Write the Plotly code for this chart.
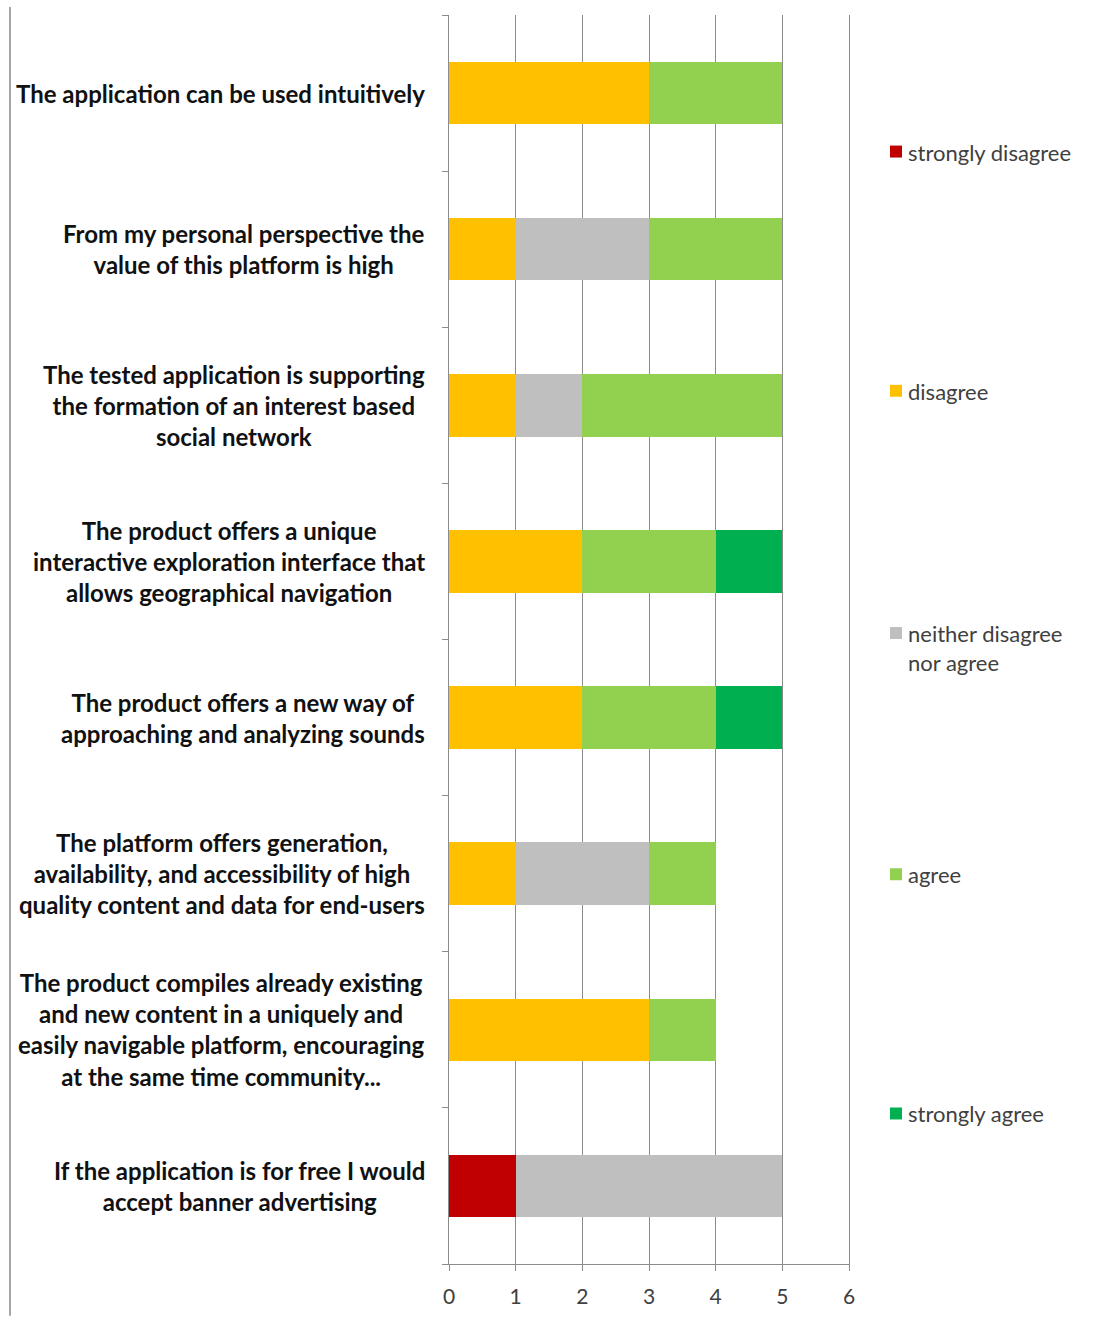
import plotly.graph_objects as go

# Survey statements, listed top to bottom
statements = [
    "The application can be used intuitively",
    "From my personal perspective the<br>value of this platform is high",
    "The tested application is supporting<br>the formation of an interest based<br>social network",
    "The product offers a unique<br>interactive exploration interface that<br>allows geographical navigation",
    "The product offers a new way of<br>approaching and analyzing sounds",
    "The platform offers generation,<br>availability, and accessibility of high<br>quality content and data for end-users",
    "The product compiles already existing<br>and new content in a uniquely and<br>easily navigable platform, encouraging<br>at the same time community...",
    "If the application is for free I would<br>accept banner advertising",
]

# Number of answers per statement for each response level
strongly_disagree = [0, 0, 0, 0, 0, 0, 0, 1]
disagree          = [3, 1, 1, 2, 2, 1, 3, 0]
neither           = [0, 2, 1, 0, 0, 2, 0, 4]
agree             = [2, 2, 3, 2, 2, 1, 1, 0]
strongly_agree    = [0, 0, 0, 1, 1, 0, 0, 0]

series_names = ["strongly disagree", "disagree", "neither disagree<br>nor agree", "agree", "strongly agree"]
series_values = [strongly_disagree, disagree, neither, agree, strongly_agree]
series_colors = ["#C00000", "#FFC000", "#BFBFBF", "#92D050", "#00B050"]

x_ticks = [0, 1, 2, 3, 4, 5, 6]

W, H = 1106, 1320
L, R, T, B = 449, 257, 15, 52
plot_w = W - L - R
plot_h = H - T - B

fig = go.Figure()
for name, vals, col in zip(series_names, series_values, series_colors):
    fig.add_trace(go.Bar(
        y=list(range(len(statements))), x=vals, orientation="h",
        name=name.replace("<br>", " "), marker=dict(color=col, line=dict(width=0)),
        width=0.4, showlegend=False,
    ))

annotations = []
# Statement labels, centred line by line, right edge near the axis
for i, s in enumerate(statements):
    annotations.append(dict(
        x=0, xref="paper", xanchor="right", xshift=-22,
        y=i, yref="y", yanchor="middle",
        text=s, showarrow=False, align="center",
        font=dict(family="Lato", size=24, color="#111111", weight="bold"),
    ))

# Legend spread down the right-hand side
legend_y_px = [152, 392, 635, 877, 1117]
shapes = []
for name, col, ypx in zip(series_names, series_colors, legend_y_px):
    yp = (H - B - ypx) / plot_h
    x_sw = (890 - L) / plot_w
    x_sw2 = (902 - L) / plot_w
    h = 6 / plot_h
    shapes.append(dict(type="rect", xref="paper", yref="paper",
                       x0=x_sw, x1=x_sw2, y0=yp - h, y1=yp + h,
                       fillcolor=col, line=dict(width=0)))
    annotations.append(dict(
        x=(906 - L) / plot_w, xref="paper", xanchor="left",
        y=yp, yref="paper", yanchor="top", yshift=15,
        text=name, showarrow=False, align="left",
        font=dict(family="Lato", size=22, color="#404040"),
    ))

# Outer frame edge on the left
shapes.append(dict(type="line", xref="paper", yref="paper",
                   x0=(10 - L) / plot_w, x1=(10 - L) / plot_w,
                   y0=(H - B - 7) / plot_h, y1=(H - B - H) / plot_h,
                   line=dict(color="#A6A6A6", width=2)))

fig.update_layout(
    width=W, height=H,
    margin=dict(l=L, r=R, t=T, b=B, pad=0),
    barmode="stack",
    plot_bgcolor="white", paper_bgcolor="white",
    annotations=annotations, shapes=shapes,
    showlegend=False,
)
fig.update_xaxes(
    range=[0, 6], tickvals=x_ticks, ticktext=[str(v) for v in x_ticks],
    showgrid=True, gridcolor="#8C8C8C", gridwidth=1,
    showline=True, linecolor="#8C8C8C", linewidth=1,
    ticks="outside", ticklen=6, tickcolor="#8C8C8C",
    ticklabelstandoff=8,
    tickfont=dict(family="Lato", size=21, color="#404040"),
    zeroline=False, fixedrange=True,
)
fig.update_yaxes(
    range=[len(statements) - 0.5, -0.5],
    tickvals=[i - 0.5 for i in range(len(statements) + 1)],
    showticklabels=False, showgrid=False,
    showline=True, mirror=True, linecolor="#8C8C8C", linewidth=1,
    ticks="outside", ticklen=6, tickcolor="#8C8C8C",
    zeroline=False, fixedrange=True,
)

fig.write_html("out.html")
